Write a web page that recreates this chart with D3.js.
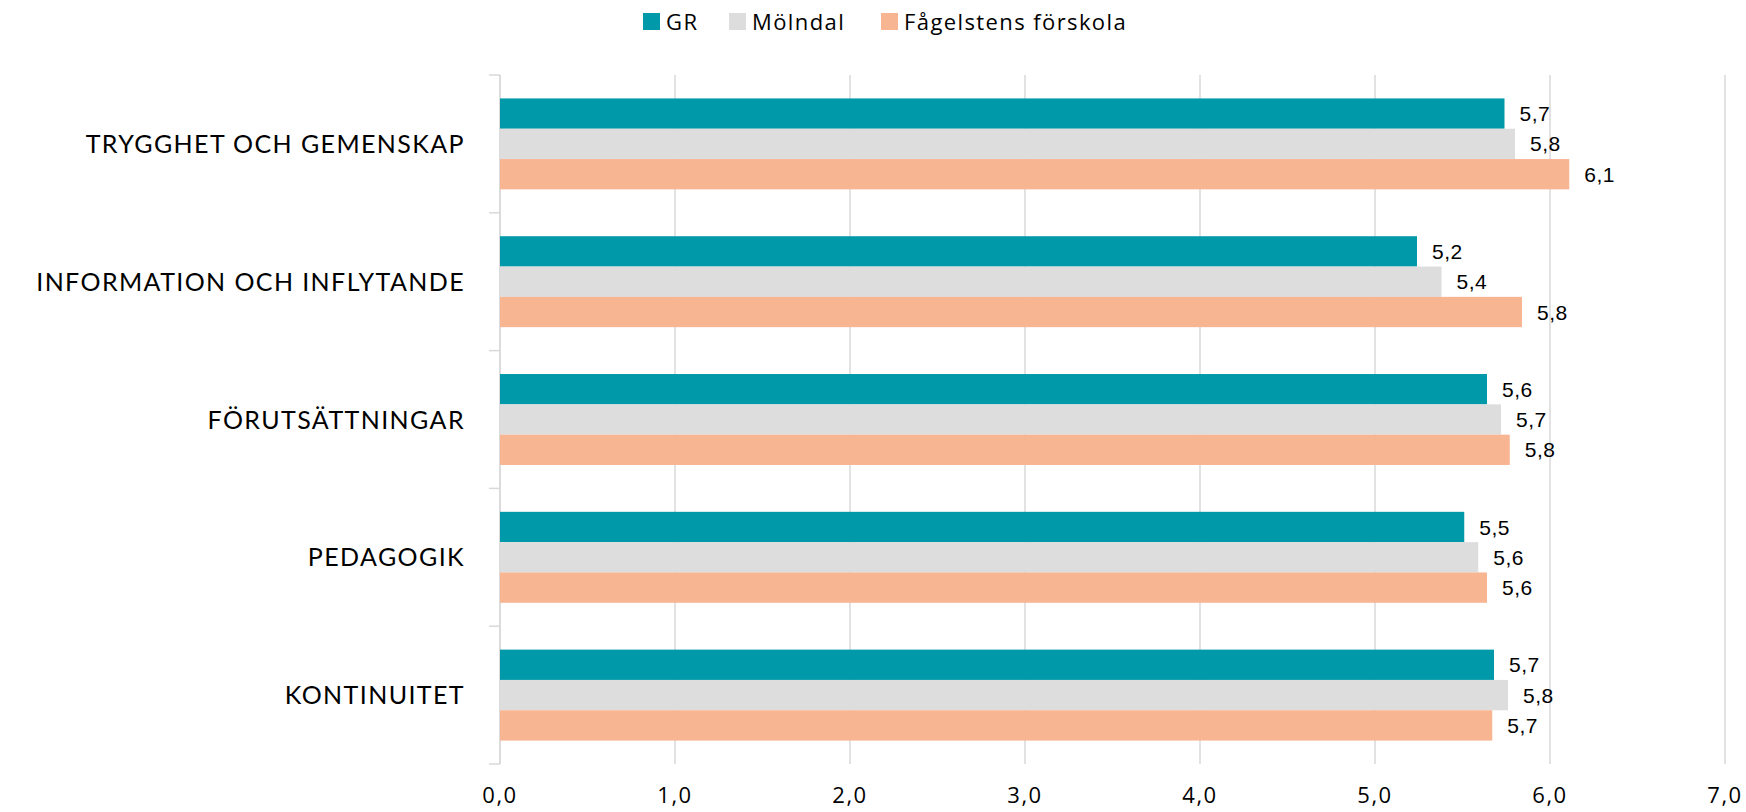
<!DOCTYPE html>
<html>
<head>
<meta charset="utf-8">
<script src="https://cdn.jsdelivr.net/npm/d3@7"></script>
<style>
  body { margin: 0; background: #fff; }
  svg { display: block; }
</style>
</head>
<body>
<svg id="chart"></svg>
<script>
// chart data
const categories = ['TRYGGHET OCH GEMENSKAP', 'INFORMATION OCH INFLYTANDE', 'FÖRUTSÄTTNINGAR', 'PEDAGOGIK', 'KONTINUITET'];
const seriesNames = ['GR', 'Mölndal', 'Fågelstens förskola'];
const grValues = [5.74, 5.24, 5.64, 5.51, 5.68];
const molndalValues = [5.80, 5.38, 5.72, 5.59, 5.76];
const fagelstenValues = [6.11, 5.84, 5.77, 5.64, 5.67];
const xTicks = [0, 1, 2, 3, 4, 5, 6, 7];
const colors = ['#0099a9', '#dddddd', '#f8b592'];

const allSeries = [grValues, molndalValues, fagelstenValues];

const width = 1746, height = 812;
const margin = {top: 75, right: 21, bottom: 48, left: 500};

const svg = d3.select('#chart')
  .attr('width', width)
  .attr('height', height);

const x = d3.scaleLinear()
  .domain([0, 7])
  .range([margin.left, width - margin.right]);

const y = d3.scaleBand()
  .domain(categories)
  .range([margin.top, height - margin.bottom])
  .padding(0);

const barH = y.bandwidth() * 0.22;
const groupOff = (y.bandwidth() - barH * 3) / 2;

// gridlines
svg.append('g')
  .selectAll('line')
  .data(xTicks)
  .join('line')
    .attr('x1', d => x(d)).attr('x2', d => x(d))
    .attr('y1', margin.top).attr('y2', height - margin.bottom)
    .attr('stroke', '#d9d9d9')
    .attr('stroke-width', 1.5);

// category axis with outer tick marks
const yAxis = svg.append('g')
  .attr('transform', 'translate(' + margin.left + ',0)');
yAxis.append('line')
  .attr('x1', 0).attr('x2', 0)
  .attr('y1', margin.top).attr('y2', height - margin.bottom)
  .attr('stroke', '#d9d9d9').attr('stroke-width', 1.5);
const sepYs = categories.map(c => y(c)).concat([height - margin.bottom]);
yAxis.selectAll('.sep')
  .data(sepYs)
  .join('line')
    .attr('class', 'sep')
    .attr('x1', -11).attr('x2', 0)
    .attr('y1', d => d).attr('y2', d => d)
    .attr('stroke', '#d9d9d9').attr('stroke-width', 1.5);

yAxis.selectAll('.cat')
  .data(categories)
  .join('text')
    .attr('class', 'cat')
    .attr('x', -35)
    .attr('y', d => y(d) + y.bandwidth() / 2)
    .attr('dy', '0.36em')
    .attr('text-anchor', 'end')
    .attr('font-family', 'Lato, "Open Sans", sans-serif')
    .attr('font-size', 25)
    .attr('letter-spacing', 1.4)
    .attr('fill', '#000')
    .text(d => d);

// bars
allSeries.forEach((vals, si) => {
  const g = svg.append('g');
  g.selectAll('rect')
    .data(vals)
    .join('rect')
      .attr('x', x(0))
      .attr('y', (d, i) => y(categories[i]) + groupOff + si * barH)
      .attr('width', d => x(d) - x(0))
      .attr('height', barH)
      .attr('fill', colors[si]);

  g.selectAll('text')
    .data(vals)
    .join('text')
      .attr('x', d => x(d) + 15)
      .attr('y', (d, i) => y(categories[i]) + groupOff + si * barH + barH / 2)
      .attr('dy', '0.36em')
      .attr('font-family', '"Liberation Sans", Arial, sans-serif')
      .attr('font-size', 21)
      .attr('letter-spacing', 0.5)
      .attr('fill', '#000')
      .text(d => d3.format('.1f')(d).replace('.', ','));
});

// x tick labels
svg.append('g')
  .selectAll('text')
  .data(xTicks)
  .join('text')
    .attr('x', d => x(d))
    .attr('y', 803)
    .attr('text-anchor', 'middle')
    .attr('font-family', '"Open Sans", sans-serif')
    .attr('font-size', 22)
    .attr('letter-spacing', 1.5)
    .attr('fill', '#000')
    .text(d => d3.format('.1f')(d).replace('.', ','));

// legend
const legendX = [643, 729, 881];
const legend = svg.append('g');
seriesNames.forEach((name, i) => {
  legend.append('rect')
    .attr('x', legendX[i]).attr('y', 13)
    .attr('width', 17).attr('height', 17)
    .attr('fill', colors[i]);
  legend.append('text')
    .attr('x', legendX[i] + 23)
    .attr('y', 30)
    .attr('font-family', '"Open Sans", sans-serif')
    .attr('font-size', 22)
    .attr('letter-spacing', 1.4)
    .attr('fill', '#000')
    .text(name);
});
</script>
</body>
</html>
